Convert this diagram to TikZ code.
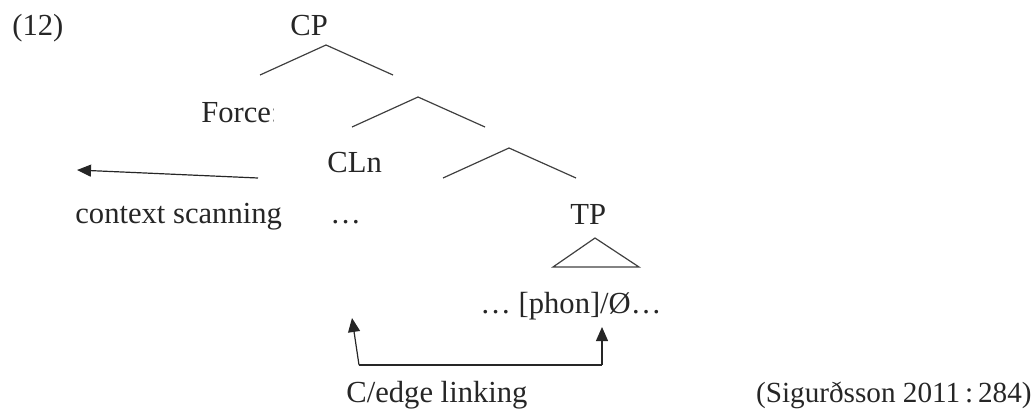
\documentclass[tikz,border=0pt]{standalone}
\usepackage{fontspec}
\setmainfont{Liberation Serif}
\usetikzlibrary{arrows.meta}
\begin{document}
\begin{tikzpicture}[x=0.5pt,y=-0.5pt,
  lbl/.style={inner sep=0pt,anchor=base west,font=\fontsize{15.3}{18}\selectfont,text=black!85},
  branch/.style={draw=black!75,line width=0.6pt},
  arr/.style={draw=black!85,line width=0.6pt,-{Triangle[length=7pt,width=6pt]}}]
\useasboundingbox (0,0) rectangle (1036,412);
% texts
\node[lbl] (ex) at (12,35) {(12)};
\node[lbl] (cp) at (290,35) {CP};
\begin{scope}
\clip (195,90) rectangle (273,140);
\node[lbl] (force) at (201,122) {Force:};
\end{scope}
\node[lbl] (cln) at (327,172) {CLn};
\node[lbl] (cs) at (75,223) {context scanning};
\node[lbl] (dots) at (330,223) {…};
\node[lbl] (tp) at (570,224) {TP};
\node[lbl] (phon) at (480,313) {… [phon]/Ø…};
\node[lbl] (cel) at (346,402) {C/edge linking};
\node[lbl,anchor=base east,font=\fontsize{14.6}{18}\selectfont] (cite) at (1032,402) {(Sigurðsson 2011\,:\,284)};
% tree branches
\coordinate (a1) at (326,45); \coordinate (l1) at (260,75); \coordinate (r1) at (393,75);
\draw[branch] (l1) -- (a1) -- (r1);
\coordinate (a2) at (418,97); \coordinate (l2) at (352,127); \coordinate (r2) at (485,127);
\draw[branch] (l2) -- (a2) -- (r2);
\coordinate (a3) at (509,148); \coordinate (l3) at (443,178); \coordinate (r3) at (576,178);
\draw[branch] (l3) -- (a3) -- (r3);
\coordinate (a4) at (595,238); \coordinate (l4) at (553,267); \coordinate (r4) at (639,267);
\draw[branch] (a4) -- (l4) -- (r4) -- cycle;
% arrows
\coordinate (csS) at (258,178); \coordinate (csT) at (77,170);
\draw[arr] (csS) -- (csT);
\coordinate (bl) at (359,365); \coordinate (br) at (602,365);
\coordinate (tl) at (352,318); \coordinate (tr) at (602,327);
\draw[draw=black!85,line width=0.6pt] (bl) -- (br);
\draw[arr] (bl) -- (tl);
\draw[arr] (br) -- (tr);
\end{tikzpicture}
\end{document}
